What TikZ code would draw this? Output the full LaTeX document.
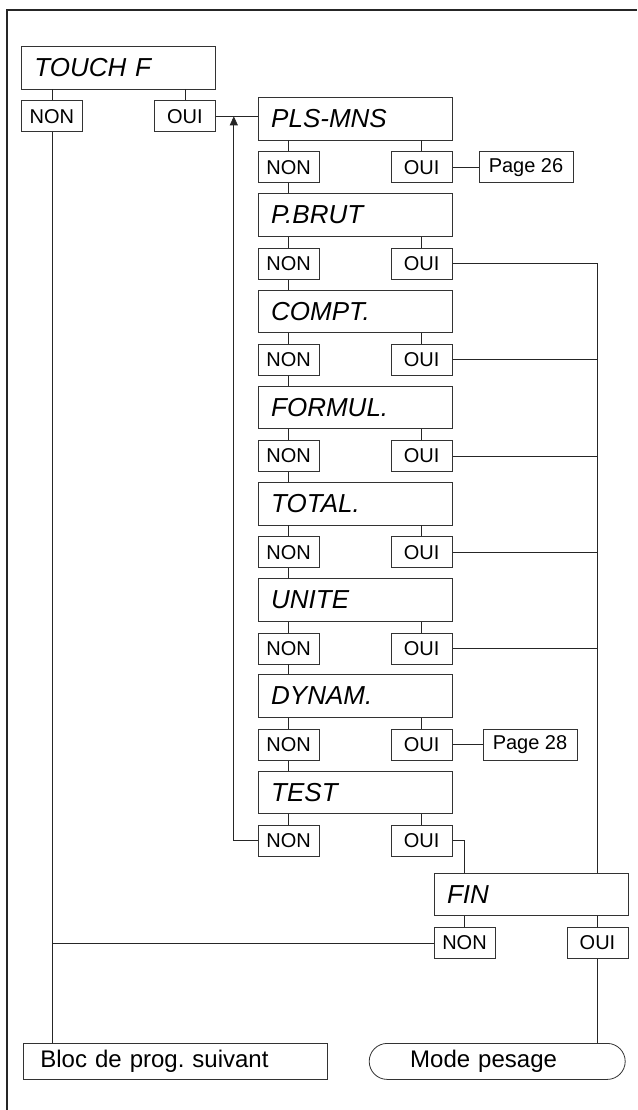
\documentclass[tikz,border=0pt]{standalone}
\usepackage{fontspec}
\setmainfont{Liberation Sans}
\usetikzlibrary{arrows.meta,positioning}

\begin{document}
\begin{tikzpicture}[x=1pt, y=1pt,
    menu/.style={draw=black!80, line width=0.8pt, minimum height=42.6pt,
      text width=168pt, inner xsep=13pt, inner ysep=0pt, align=left,
      font=\fontsize{26}{30}\selectfont\itshape},
    reply/.style={draw=black!80, line width=0.8pt, minimum width=61pt,
      minimum height=31pt, inner sep=0pt, font=\fontsize{20}{24}\selectfont},
    pageref/.style={reply, minimum width=94pt},
    exitbox/.style={draw=black!80, line width=0.8pt, minimum height=36pt,
      inner ysep=0pt, align=left, font=\fontsize{24}{28}\selectfont},
    link/.style={draw=black!85, line width=0.8pt}]
      \useasboundingbox (0,0) rectangle (637,-1110);
      % Frame
      \draw[line width=1.5pt, black!85] (7,-1110) |- (637,-10);
      % First menu
      \node[menu, anchor=north west] (touch) at (21,-46) {TOUCH F};
      \node[reply, below=11pt of touch.south west, anchor=north west] (touch-non) {NON};
      \node[reply, below=11pt of touch.south east, anchor=north east] (touch-oui) {OUI};
      \coordinate[right=18pt of touch-oui.east] (back);
      % Sub menus
      \node[menu, right=42pt of touch-oui, yshift=-2.5pt] (plsmns) {PLS-MNS};
      \node[reply, below=11pt of plsmns.south west, anchor=north west] (plsmns-non) {NON};
      \node[reply, below=11pt of plsmns.south east, anchor=north east] (plsmns-oui) {OUI};
      \node[pageref, right=26pt of plsmns-oui] (page26) {Page 26};
      \node[menu, below=10pt of plsmns-non.south west, anchor=north west] (pbrut) {P.BRUT};
      \node[reply, below=11pt of pbrut.south west, anchor=north west] (pbrut-non) {NON};
      \node[reply, below=11pt of pbrut.south east, anchor=north east] (pbrut-oui) {OUI};
      \node[menu, below=10pt of pbrut-non.south west, anchor=north west] (compt) {COMPT.};
      \node[reply, below=11pt of compt.south west, anchor=north west] (compt-non) {NON};
      \node[reply, below=11pt of compt.south east, anchor=north east] (compt-oui) {OUI};
      \node[menu, below=10pt of compt-non.south west, anchor=north west] (formul) {FORMUL.};
      \node[reply, below=11pt of formul.south west, anchor=north west] (formul-non) {NON};
      \node[reply, below=11pt of formul.south east, anchor=north east] (formul-oui) {OUI};
      \node[menu, below=10pt of formul-non.south west, anchor=north west] (total) {TOTAL.};
      \node[reply, below=11pt of total.south west, anchor=north west] (total-non) {NON};
      \node[reply, below=11pt of total.south east, anchor=north east] (total-oui) {OUI};
      \node[menu, below=10pt of total-non.south west, anchor=north west] (unite) {UNITE};
      \node[reply, below=11pt of unite.south west, anchor=north west] (unite-non) {NON};
      \node[reply, below=11pt of unite.south east, anchor=north east] (unite-oui) {OUI};
      \node[menu, below=10pt of unite-non.south west, anchor=north west] (dynam) {DYNAM.};
      \node[reply, below=11pt of dynam.south west, anchor=north west] (dynam-non) {NON};
      \node[reply, below=11pt of dynam.south east, anchor=north east] (dynam-oui) {OUI};
      \node[pageref, right=30pt of dynam-oui] (page28) {Page 28};
      \node[menu, below=10pt of dynam-non.south west, anchor=north west] (test) {TEST};
      \node[reply, below=11pt of test.south west, anchor=north west] (test-non) {NON};
      \node[reply, below=11pt of test.south east, anchor=north east] (test-oui) {OUI};
      % End menu
      \node[menu, below=16pt of test-oui.south east, anchor=north west, xshift=-19pt] (fin) {FIN};
      \node[reply, below=11pt of fin.south west, anchor=north west] (fin-non) {NON};
      \node[reply, below=11pt of fin.south east, anchor=north east] (fin-oui) {OUI};
      % Exits
      \node[exitbox, anchor=north west, text width=270pt, inner xsep=17pt] (bloc) at (23,-1043) {Bloc de prog.\ suivant};
      \node[exitbox, right=41pt of bloc, text width=174pt, inner xsep=41pt,
        rounded corners=18pt] (pesage) {Mode pesage};
      % Connect the boxes
      \draw[link]
      (touch-non) edge (touch-non |- touch.south)
      (touch-oui) edge (touch-oui |- touch.south)
      (touch-non) edge (touch-non |- bloc.north)
      (touch-oui.east) edge (touch-oui.east -| plsmns.west)
      (plsmns-non) edge (plsmns-non |- plsmns.south)
      (plsmns-oui) edge (plsmns-oui |- plsmns.south)
      (plsmns-oui) edge (page26)
      (plsmns-non) edge (plsmns-non |- pbrut.north)
      (pbrut-non) edge (pbrut-non |- pbrut.south)
      (pbrut-oui) edge (pbrut-oui |- pbrut.south)
      (pbrut-non) edge (pbrut-non |- compt.north)
      (compt-non) edge (compt-non |- compt.south)
      (compt-oui) edge (compt-oui |- compt.south)
      (compt-non) edge (compt-non |- formul.north)
      (formul-non) edge (formul-non |- formul.south)
      (formul-oui) edge (formul-oui |- formul.south)
      (formul-non) edge (formul-non |- total.north)
      (total-non) edge (total-non |- total.south)
      (total-oui) edge (total-oui |- total.south)
      (total-non) edge (total-non |- unite.north)
      (unite-non) edge (unite-non |- unite.south)
      (unite-oui) edge (unite-oui |- unite.south)
      (unite-non) edge (unite-non |- dynam.north)
      (dynam-non) edge (dynam-non |- dynam.south)
      (dynam-oui) edge (dynam-oui |- dynam.south)
      (dynam-oui) edge (page28)
      (dynam-non) edge (dynam-non |- test.north)
      (test-non) edge (test-non |- test.south)
      (test-oui) edge (test-oui |- test.south)
      (fin-non) edge (fin-non |- fin.south)
      (fin-oui) edge (fin-oui |- fin.south)
      (fin-non.west) edge (fin-non.west -| touch-non)
      (fin-oui) edge (fin-oui |- pesage.north);
      \draw[link] (pbrut-oui.east) -| (fin-oui |- fin.north);
      \draw[link] (compt-oui.east) -- (compt-oui.east -| fin-oui);
      \draw[link] (formul-oui.east) -- (formul-oui.east -| fin-oui);
      \draw[link] (total-oui.east) -- (total-oui.east -| fin-oui);
      \draw[link] (unite-oui.east) -- (unite-oui.east -| fin-oui);
      \draw[link] (test-oui.east) -| (fin-non |- fin.north);
      \draw[link, -{Triangle[length=9pt, width=8pt]}] (test-non.west) -| (back);
    \end{tikzpicture}
\end{document}
